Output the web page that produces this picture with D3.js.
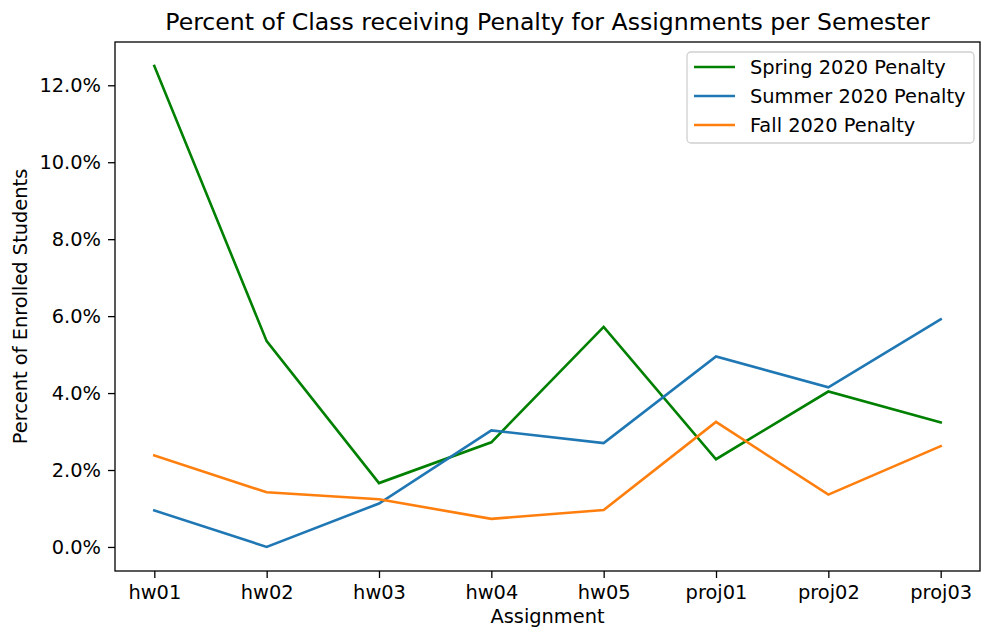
<!DOCTYPE html>
<html lang="en">
<head>
<meta charset="utf-8">
<title>Penalty chart</title>
<script src="https://cdn.jsdelivr.net/npm/d3@7"></script>
<style>
  body { margin: 0; background: #fff; }
  svg text { font-family: "DejaVu Sans", sans-serif; fill: #000; }
</style>
</head>
<body>
<script>
// data (percent of enrolled students)
var assignments = ["hw01", "hw02", "hw03", "hw04", "hw05", "proj01", "proj02", "proj03"];
var spring = [12.5, 5.35, 1.66, 2.72, 5.72, 2.28, 4.04, 3.24];
var summer = [0.95, 0.0, 1.13, 3.03, 2.70, 4.95, 4.15, 5.92];
var fall   = [2.38, 1.42, 1.24, 0.73, 0.96, 3.25, 1.36, 2.62];
var seriesNames = ["Spring 2020 Penalty", "Summer 2020 Penalty", "Fall 2020 Penalty"];
var yTicks = [0, 2, 4, 6, 8, 10, 12];

var w = 981, h = 631,
    plotLeft = 115, plotRight = 980, plotTop = 42, plotBottom = 571,
    fontSize = "19.4px";

var series = [
  { name: seriesNames[0], values: spring, color: "#008000" },
  { name: seriesNames[1], values: summer, color: "#1f77b4" },
  { name: seriesNames[2], values: fall,   color: "#ff7f0e" }
];

var svg = d3.select("body").append("svg")
    .attr("width", w)
    .attr("height", h);

// matplotlib-like 5% margins
var x = d3.scalePoint()
    .domain(assignments)
    .range([plotLeft, plotRight])
    .padding(0.35);

var yMax = d3.max(series, function(s) { return d3.max(s.values); }),
    yMin = d3.min(series, function(s) { return d3.min(s.values); }),
    pad = (yMax - yMin) * 0.05;

var y = d3.scaleLinear()
    .domain([yMin - pad, yMax + pad])
    .range([plotBottom, plotTop]);

var line = d3.line()
    .x(function(d, i) { return x(assignments[i]); })
    .y(function(d) { return y(d); });

svg.selectAll("path.series")
    .data(series)
    .enter()
    .append("path")
    .attr("class", "series")
    .attr("d", function(s) { return line(s.values); })
    .attr("fill", "none")
    .attr("stroke", function(s) { return s.color; })
    .attr("stroke-width", 2.6)
    .attr("stroke-linejoin", "miter")
    .attr("stroke-linecap", "square");

// axes
var xAxis = d3.axisBottom(x).tickSize(7).tickPadding(7);
var yAxis = d3.axisLeft(y).tickValues(yTicks).tickSize(7).tickPadding(7)
    .tickFormat(function(d) { return d.toFixed(1) + "%"; });

var gx = svg.append("g")
    .attr("transform", "translate(0," + plotBottom + ")")
    .call(xAxis);
var gy = svg.append("g")
    .attr("transform", "translate(" + plotLeft + ",0)")
    .call(yAxis);

[gx, gy].forEach(function(g) {
  g.select(".domain").remove();
  g.selectAll(".tick line").attr("stroke", "#000").attr("stroke-width", 1.3);
  g.selectAll(".tick text")
    .style("font-family", "DejaVu Sans, sans-serif")
    .style("font-size", fontSize)
    .attr("fill", "#000");
});

// frame
svg.append("rect")
    .attr("x", plotLeft)
    .attr("y", plotTop)
    .attr("width", plotRight - plotLeft)
    .attr("height", plotBottom - plotTop)
    .attr("fill", "none")
    .attr("stroke", "#000")
    .attr("stroke-width", 1.3);

// labels
svg.append("text")
    .attr("x", (plotLeft + plotRight) / 2)
    .attr("y", 30)
    .attr("text-anchor", "middle")
    .style("font-size", "23.6px")
    .text("Percent of Class receiving Penalty for Assignments per Semester");

svg.append("text")
    .attr("x", (plotLeft + plotRight) / 2)
    .attr("y", 623)
    .attr("text-anchor", "middle")
    .style("font-size", fontSize)
    .text("Assignment");

svg.append("text")
    .attr("transform", "translate(27," + (plotTop + plotBottom) / 2 + ") rotate(-90)")
    .attr("text-anchor", "middle")
    .style("font-size", fontSize)
    .text("Percent of Enrolled Students");

// legend
var legend = svg.append("g").attr("transform", "translate(687,52)");
legend.append("rect")
    .attr("width", 287)
    .attr("height", 91)
    .attr("rx", 4)
    .attr("fill", "#fff")
    .attr("fill-opacity", 0.8)
    .attr("stroke", "#d0d0d0")
    .attr("stroke-width", 1.3);

var item = legend.selectAll("g.item")
    .data(series)
    .enter()
    .append("g")
    .attr("class", "item")
    .attr("transform", function(d, i) { return "translate(0," + (15 + i * 29) + ")"; });

item.append("line")
    .attr("x1", 7).attr("x2", 48)
    .attr("stroke", function(d) { return d.color; })
    .attr("stroke-width", 2.6);

item.append("text")
    .attr("x", 63)
    .attr("dy", "0.35em")
    .style("font-size", fontSize)
    .text(function(d) { return d.name; });
</script>
</body>
</html>
